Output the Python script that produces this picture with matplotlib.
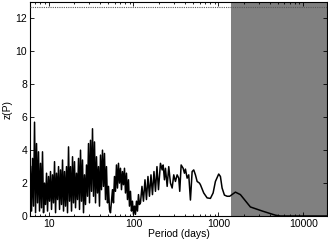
import matplotlib
matplotlib.use("Agg")
import matplotlib.pyplot as plt
from matplotlib.ticker import LogLocator, FixedLocator, NullFormatter

plt.rcParams['font.family'] = ['Liberation Sans', 'DejaVu Sans']

# Periodogram: period (days) and power z(P)
period = [
    6.14, 6.31, 6.48, 6.66, 6.84, 7.03, 7.22, 7.42, 7.62, 7.83,
    8.05, 8.27, 8.49, 8.73, 8.97, 9.21, 9.47, 9.73, 10.0, 10.27,
    10.55, 10.84, 11.14, 11.45, 11.76, 12.09, 12.42, 12.76, 13.11, 13.47,
    13.84, 14.22, 14.61, 15.01, 15.42, 15.85, 16.28, 16.73, 17.19, 17.66,
    18.15, 18.64, 19.16, 19.68, 20.22, 20.78, 21.35, 21.93, 22.54, 23.15,
    23.79, 24.44, 25.11, 25.80, 26.51, 27.24, 27.99, 28.76, 29.55, 30.36,
    31.19, 32.05, 32.93, 33.83, 34.76, 35.72, 36.70, 37.70, 38.74, 39.80,
    40.90, 42.02, 43.17, 44.36, 45.57, 46.83, 48.11, 49.43, 50.79, 52.18,
    53.62, 55.09, 56.60, 58.15, 59.75, 61.39, 63.08, 64.81, 66.59, 68.42,
    70.30, 72.23, 74.21, 76.25, 78.34, 80.49, 82.70, 84.97, 87.30, 89.70,
    92.16, 94.69, 97.29, 100.0, 102.7, 105.5, 108.4, 111.4, 114.5, 117.6,
    120.9, 125.9, 131.1, 136.6, 142.2, 148.1, 154.2, 160.7, 167.3, 174.3,
    181.5, 189.0, 196.9,
    207.8, 217.6, 223.6, 231.6, 238.0, 249.2, 260.2, 272.4, 285.3, 298.0,
    311.9, 326.6, 341.1, 350.5, 364.1, 384.4, 398.1, 409.0, 428.3, 447.3,
    468.4, 490.4, 512.2, 536.3, 561.6, 597.6, 614.1, 671.6, 736.4, 805.2,
    866.1, 922.0, 1008, 1056, 1105, 1177, 1266, 1358, 1585, 1815,
    2379, 3293, 4685, 5363, 19000,
]
power = [
    3.0, 0.3, 3.5, 0.6, 5.7, 0.2, 4.4, 0.8, 3.9, 0.3,
    3.2, 0.5, 3.9, 0.2, 2.0, 0.7, 2.6, 0.3, 2.4, 0.9,
    2.7, 0.4, 2.5, 0.8, 3.3, 0.2, 2.6, 1.0, 3.0, 0.4,
    2.8, 0.7, 3.4, 0.3, 2.7, 0.6, 3.0, 0.2, 4.2, 0.9,
    3.0, 0.3, 3.6, 0.8, 3.3, 0.5, 2.6, 1.0, 3.5, 0.4,
    4.0, 0.9, 3.4, 0.2, 2.5, 0.7, 3.1, 1.2, 4.4, 0.8,
    4.6, 1.5, 5.3, 1.2, 4.5, 0.8, 3.6, 1.4, 3.0, 0.6,
    3.7, 1.6, 4.0, 1.8, 3.8, 1.0, 3.0, 0.8, 1.8, 0.4,
    0.2, 0.9, 1.6, 0.8, 2.4, 1.5, 3.1, 1.7, 3.2, 2.0,
    2.9, 1.6, 2.7, 1.9, 2.9, 1.4, 2.6, 1.0, 2.2, 0.6,
    1.5, 0.3, 0.9, 0.1, 0.6, 0.1, 0.9, 0.3, 1.3, 0.7,
    0.8, 1.8, 0.9, 2.2, 1.0, 2.4, 1.2, 2.5, 1.3, 2.7,
    1.5, 3.0, 1.6,
    3.2, 2.8, 3.1, 2.2, 2.9, 1.8, 3.0, 2.0, 1.7, 2.5,
    2.1, 2.5, 2.3, 1.5, 3.1, 2.9, 2.6, 2.85, 2.3, 2.5,
    0.97, 2.7, 2.8, 2.5, 2.1, 2.0, 1.9, 1.4, 1.1, 1.07,
    1.4, 2.1, 2.55, 2.4, 1.7, 1.27, 1.2, 1.2, 1.45, 1.3,
    0.55, 0.3, 0.05, 0.0, 0.0,
]

fap_level = 12.7
shade_start = 1400
x_range = (6.05, 19000)
y_range = (0, 13)
y_ticks = [0, 2, 4, 6, 8, 10, 12]
x_ticks = [10, 100, 1000, 10000]
x_tick_labels = ["10", "100", "1000", "10000"]

fig = plt.figure(figsize=(3.28, 2.42), dpi=100)
ax = fig.add_axes([0.0915, 0.1074, 0.9055, 0.8843])

ax.axvspan(shade_start, x_range[1], facecolor='#808080', edgecolor='none', zorder=0)
ax.plot(period, power, color='black', lw=1.1, zorder=2)
ax.axhline(fap_level, color='0.35', lw=0.8, ls=(0, (1, 1)), zorder=3)

ax.set_xscale('log')
ax.set_xlim(*x_range)
ax.set_ylim(*y_range)
ax.xaxis.set_major_locator(FixedLocator(x_ticks))
ax.set_xticklabels(x_tick_labels)
ax.xaxis.set_minor_locator(LogLocator(base=10, subs=range(2, 10)))
ax.xaxis.set_minor_formatter(NullFormatter())
ax.set_yticks(y_ticks)

ax.tick_params(which='both', direction='in', top=True, right=True, labelsize=7.5,
               width=0.6, pad=2)
ax.tick_params(which='major', length=3)
ax.tick_params(which='minor', length=1.5)
for s in ax.spines.values():
    s.set_linewidth(0.8)

ax.set_xlabel('Period (days)', fontsize=7.5, labelpad=0)
ax.set_ylabel('z(P)', fontsize=7.5, labelpad=2)

fig.savefig('out.png', dpi=100)
